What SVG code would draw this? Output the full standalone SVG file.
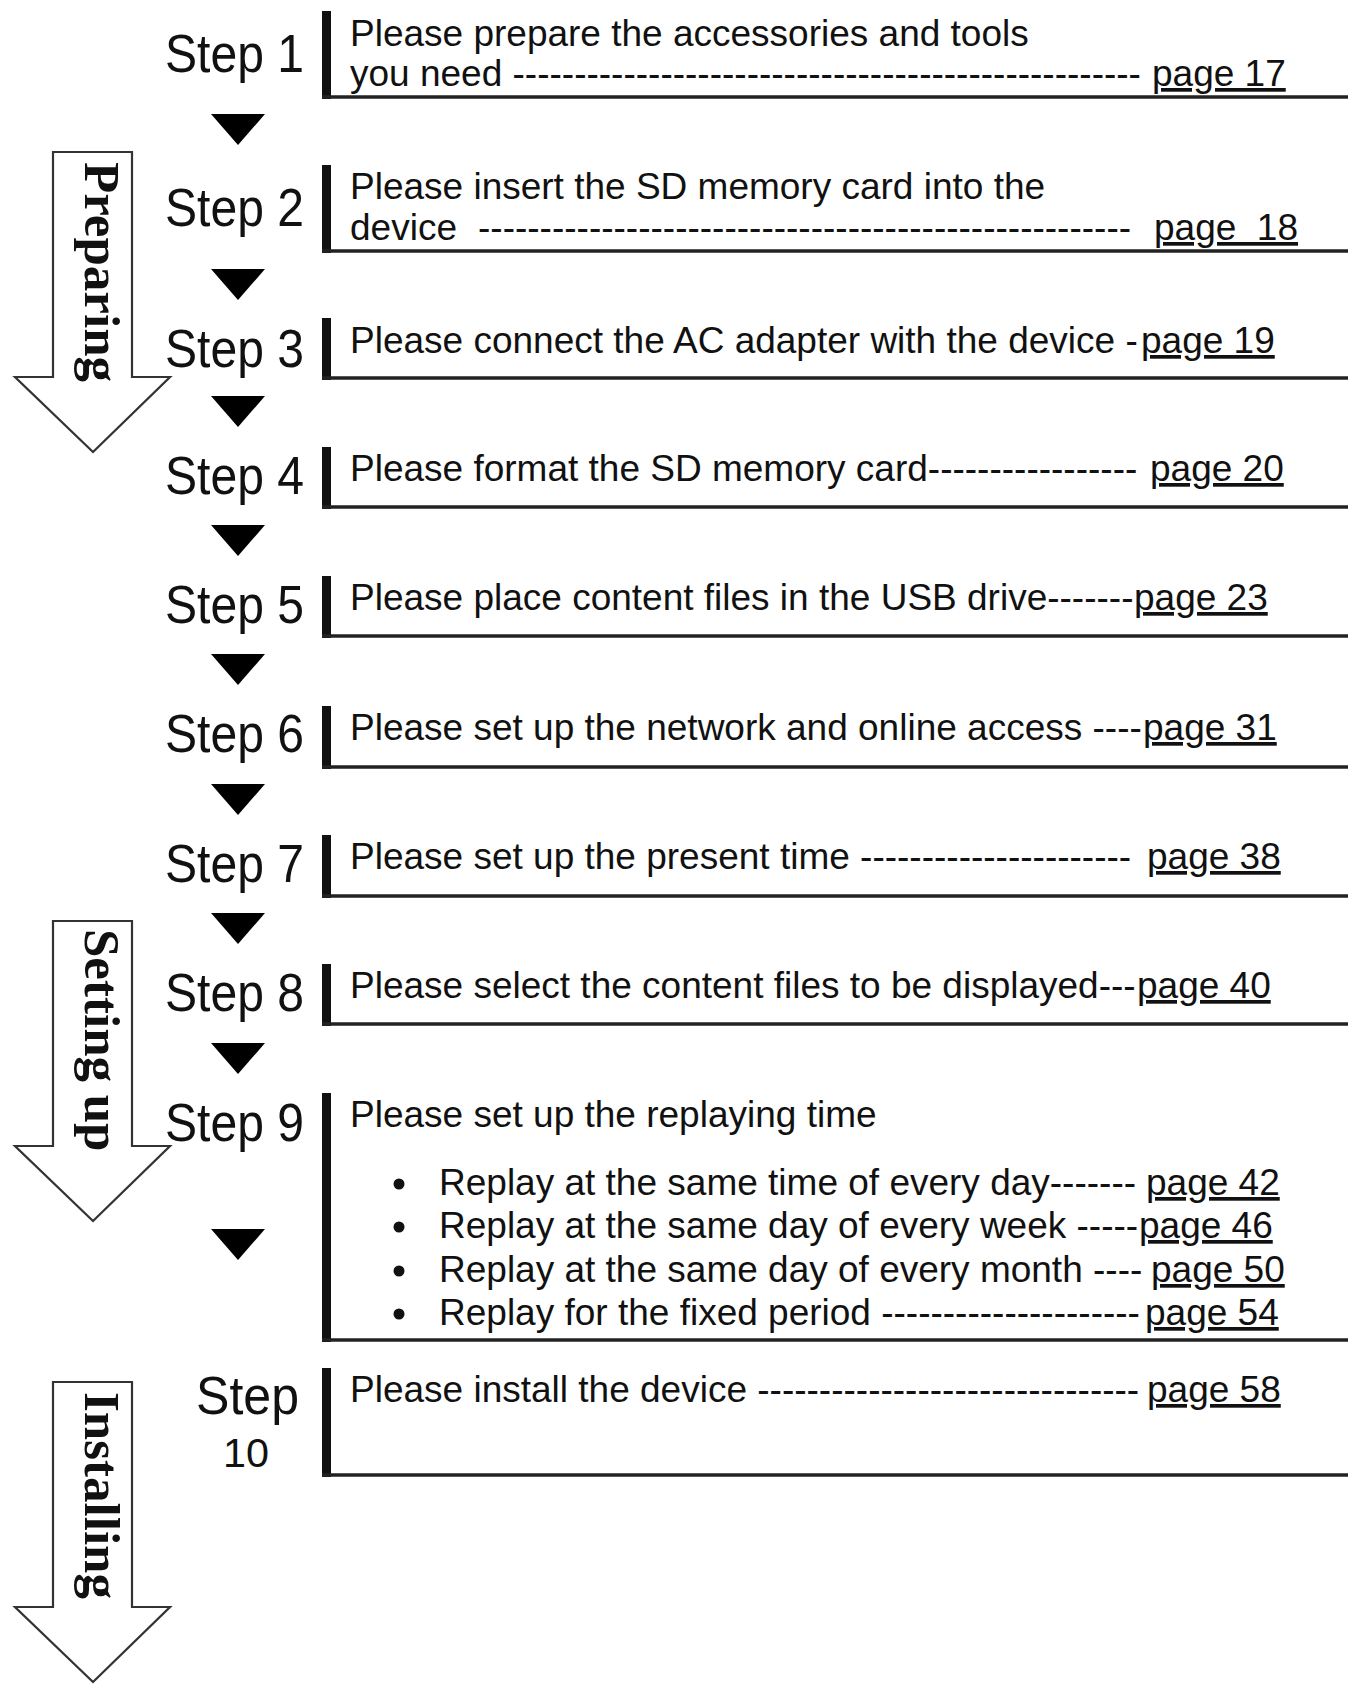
<svg xmlns="http://www.w3.org/2000/svg" width="1351" height="1690" viewBox="0 0 1351 1690">
<style>
.step{font-family:"Liberation Sans",Arial,sans-serif;font-size:53px;fill:#111;}
.t{font-family:"Liberation Sans",Arial,sans-serif;font-size:37px;fill:#111;}
.pg{font-family:"Liberation Sans",Arial,sans-serif;font-size:37px;fill:#111;text-decoration:underline;}
.phase{font-family:"Liberation Serif","Times New Roman",serif;font-size:51px;font-weight:bold;fill:#111;}
.bar{fill:#111;}
.base{stroke:#222;stroke-width:3.5;fill:none;}
.big{fill:#fff;stroke:#333;stroke-width:2.2;stroke-linejoin:miter;}
.tri{fill:#000;}
.dot{fill:#111;}
</style>
<rect width="1351" height="1690" fill="#fff"/>

<g id="phase-preparing">
<polygon class="big" points="53,152 132,152 132,377 170,377 93,452 15,377 53,377"/>
<text class="phase" transform="translate(85,162) rotate(90)">Preparing</text>
</g>
<g id="phase-setting-up">
<polygon class="big" points="53,921 132,921 132,1146 170,1146 93,1221 15,1146 53,1146"/>
<text class="phase" transform="translate(85,929) rotate(90)">Setting up</text>
</g>
<g id="phase-installing">
<polygon class="big" points="53,1382 132,1382 132,1607 170,1607 93,1682 15,1607 53,1607"/>
<text class="phase" transform="translate(85,1392) rotate(90)">Installing</text>
</g>

<g id="connectors">
<polygon class="tri" points="211,114 265,114 238,145"/>
<polygon class="tri" points="211,269 265,269 238,300"/>
<polygon class="tri" points="211,396 265,396 238,427"/>
<polygon class="tri" points="211,525 265,525 238,556"/>
<polygon class="tri" points="211,654 265,654 238,685"/>
<polygon class="tri" points="211,784 265,784 238,815"/>
<polygon class="tri" points="211,913 265,913 238,944"/>
<polygon class="tri" points="211,1043 265,1043 238,1074"/>
<polygon class="tri" points="211,1229 265,1229 238,1260"/>
</g>

<g id="step1">
<text class="step" x="165" y="72" textLength="139" lengthAdjust="spacingAndGlyphs">Step 1</text>
<rect class="bar" x="322" y="11" width="9" height="88"/>
<line class="base" x1="322" y1="97" x2="1348" y2="97"/>
<text class="t" x="350" y="46">Please prepare the accessories and tools</text>
<text class="t" x="350" y="86">you need ---------------------------------------------------</text>
<text class="pg" x="1152" y="86">page 17</text>
</g>

<g id="step2">
<text class="step" x="165" y="226" textLength="139" lengthAdjust="spacingAndGlyphs">Step 2</text>
<rect class="bar" x="322" y="165" width="9" height="88"/>
<line class="base" x1="322" y1="251" x2="1348" y2="251"/>
<text class="t" x="350" y="199">Please insert the SD memory card into the</text>
<text class="t" x="350" y="240">device</text>
<text class="t" x="478" y="240">-----------------------------------------------------</text>
<text class="pg" x="1154" y="240" xml:space="preserve">page  18</text>
</g>

<g id="step3">
<text class="step" x="165" y="367" textLength="139" lengthAdjust="spacingAndGlyphs">Step 3</text>
<rect class="bar" x="322" y="318" width="9" height="62"/>
<line class="base" x1="322" y1="378" x2="1348" y2="378"/>
<text class="t" x="350" y="353">Please connect the AC adapter with the device -</text>
<text class="pg" x="1141" y="353">page 19</text>
</g>

<g id="step4">
<text class="step" x="165" y="494" textLength="139" lengthAdjust="spacingAndGlyphs">Step 4</text>
<rect class="bar" x="322" y="447" width="9" height="62"/>
<line class="base" x1="322" y1="507" x2="1348" y2="507"/>
<text class="t" x="350" y="481">Please format the SD memory card-----------------</text>
<text class="pg" x="1150" y="481">page 20</text>
</g>

<g id="step5">
<text class="step" x="165" y="623" textLength="139" lengthAdjust="spacingAndGlyphs">Step 5</text>
<rect class="bar" x="322" y="576" width="9" height="62"/>
<line class="base" x1="322" y1="636" x2="1348" y2="636"/>
<text class="t" x="350" y="610">Please place content files in the USB drive-------</text>
<text class="pg" x="1134" y="610">page 23</text>
</g>

<g id="step6">
<text class="step" x="165" y="752" textLength="139" lengthAdjust="spacingAndGlyphs">Step 6</text>
<rect class="bar" x="322" y="706" width="9" height="63"/>
<line class="base" x1="322" y1="767" x2="1348" y2="767"/>
<text class="t" x="350" y="740">Please set up the network and online access ----</text>
<text class="pg" x="1143" y="740">page 31</text>
</g>

<g id="step7">
<text class="step" x="165" y="882" textLength="139" lengthAdjust="spacingAndGlyphs">Step 7</text>
<rect class="bar" x="322" y="835" width="9" height="63"/>
<line class="base" x1="322" y1="896" x2="1348" y2="896"/>
<text class="t" x="350" y="869">Please set up the present time ----------------------</text>
<text class="pg" x="1147" y="869">page 38</text>
</g>

<g id="step8">
<text class="step" x="165" y="1011" textLength="139" lengthAdjust="spacingAndGlyphs">Step 8</text>
<rect class="bar" x="322" y="964" width="9" height="62"/>
<line class="base" x1="322" y1="1024" x2="1348" y2="1024"/>
<text class="t" x="350" y="998">Please select the content files to be displayed---</text>
<text class="pg" x="1137" y="998">page 40</text>
</g>

<g id="step9">
<text class="step" x="165" y="1141" textLength="139" lengthAdjust="spacingAndGlyphs">Step 9</text>
<rect class="bar" x="322" y="1093" width="9" height="249"/>
<line class="base" x1="322" y1="1340" x2="1348" y2="1340"/>
<text class="t" x="350" y="1127">Please set up the replaying time</text>
<circle class="dot" cx="399" cy="1184" r="5.5"/>
<text class="t" x="439" y="1195">Replay at the same time of every day-------</text>
<text class="pg" x="1146" y="1195">page 42</text>
<circle class="dot" cx="399" cy="1227" r="5.5"/>
<text class="t" x="439" y="1238">Replay at the same day of every week -----</text>
<text class="pg" x="1139" y="1238">page 46</text>
<circle class="dot" cx="399" cy="1271" r="5.5"/>
<text class="t" x="439" y="1282">Replay at the same day of every month ----</text>
<text class="pg" x="1151" y="1282">page 50</text>
<circle class="dot" cx="399" cy="1314" r="5.5"/>
<text class="t" x="439" y="1325">Replay for the fixed period ---------------------</text>
<text class="pg" x="1145" y="1325">page 54</text>
</g>

<g id="step10">
<text class="step" x="196" y="1414" textLength="103" lengthAdjust="spacingAndGlyphs">Step</text>
<text class="step" x="223" y="1467" style="font-size:41px" textLength="46" lengthAdjust="spacingAndGlyphs">10</text>
<rect class="bar" x="322" y="1368" width="9" height="109"/>
<line class="base" x1="322" y1="1475" x2="1348" y2="1475"/>
<text class="t" x="350" y="1402">Please install the device -------------------------------</text>
<text class="pg" x="1147" y="1402">page 58</text>
</g>
</svg>
